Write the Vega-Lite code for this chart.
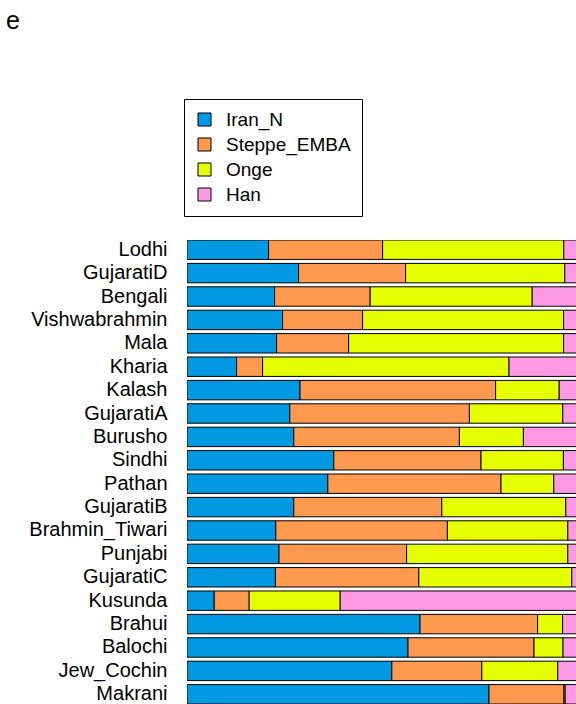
{
  "$schema": "https://vega.github.io/schema/vega-lite/v6.json",
  "autosize": "none",
  "padding": {"left": 187, "top": 240, "right": 0, "bottom": 0},
  "width": 389,
  "height": 464,
  "background": "white",
  "title": {"text": "e", "anchor": "start", "frame": "group", "dx": -181, "offset": 65, "fontSize": 25, "fontWeight": "normal", "font": "Liberation Sans", "color": "black"},
  "config": {"view": {"stroke": null}, "font": "Liberation Sans"},
  "data": {"values": [
    {"pop": "Lodhi", "source": "Iran_N", "value": 20.4}, {"pop": "Lodhi", "source": "Steppe_EMBA", "value": 28.5}, {"pop": "Lodhi", "source": "Onge", "value": 45.3}, {"pop": "Lodhi", "source": "Han", "value": 5.8},
    {"pop": "GujaratiD", "source": "Iran_N", "value": 27.9}, {"pop": "GujaratiD", "source": "Steppe_EMBA", "value": 26.75}, {"pop": "GujaratiD", "source": "Onge", "value": 39.8}, {"pop": "GujaratiD", "source": "Han", "value": 5.55},
    {"pop": "Bengali", "source": "Iran_N", "value": 21.9}, {"pop": "Bengali", "source": "Steppe_EMBA", "value": 23.9}, {"pop": "Bengali", "source": "Onge", "value": 40.5}, {"pop": "Bengali", "source": "Han", "value": 13.7},
    {"pop": "Vishwabrahmin", "source": "Iran_N", "value": 23.9}, {"pop": "Vishwabrahmin", "source": "Steppe_EMBA", "value": 20.0}, {"pop": "Vishwabrahmin", "source": "Onge", "value": 50.25}, {"pop": "Vishwabrahmin", "source": "Han", "value": 5.85},
    {"pop": "Mala", "source": "Iran_N", "value": 22.4}, {"pop": "Mala", "source": "Steppe_EMBA", "value": 18.0}, {"pop": "Mala", "source": "Onge", "value": 53.75}, {"pop": "Mala", "source": "Han", "value": 5.85},
    {"pop": "Kharia", "source": "Iran_N", "value": 12.4}, {"pop": "Kharia", "source": "Steppe_EMBA", "value": 6.5}, {"pop": "Kharia", "source": "Onge", "value": 61.6}, {"pop": "Kharia", "source": "Han", "value": 19.5},
    {"pop": "Kalash", "source": "Iran_N", "value": 28.25}, {"pop": "Kalash", "source": "Steppe_EMBA", "value": 48.9}, {"pop": "Kalash", "source": "Onge", "value": 15.9}, {"pop": "Kalash", "source": "Han", "value": 6.95},
    {"pop": "GujaratiA", "source": "Iran_N", "value": 25.7}, {"pop": "GujaratiA", "source": "Steppe_EMBA", "value": 44.9}, {"pop": "GujaratiA", "source": "Onge", "value": 23.35}, {"pop": "GujaratiA", "source": "Han", "value": 6.05},
    {"pop": "Burusho", "source": "Iran_N", "value": 26.7}, {"pop": "Burusho", "source": "Steppe_EMBA", "value": 41.4}, {"pop": "Burusho", "source": "Onge", "value": 16.0}, {"pop": "Burusho", "source": "Han", "value": 15.9},
    {"pop": "Sindhi", "source": "Iran_N", "value": 36.7}, {"pop": "Sindhi", "source": "Steppe_EMBA", "value": 36.8}, {"pop": "Sindhi", "source": "Onge", "value": 20.6}, {"pop": "Sindhi", "source": "Han", "value": 5.9},
    {"pop": "Pathan", "source": "Iran_N", "value": 35.2}, {"pop": "Pathan", "source": "Steppe_EMBA", "value": 43.3}, {"pop": "Pathan", "source": "Onge", "value": 13.2}, {"pop": "Pathan", "source": "Han", "value": 8.3},
    {"pop": "GujaratiB", "source": "Iran_N", "value": 26.7}, {"pop": "GujaratiB", "source": "Steppe_EMBA", "value": 37.0}, {"pop": "GujaratiB", "source": "Onge", "value": 31.0}, {"pop": "GujaratiB", "source": "Han", "value": 5.3},
    {"pop": "Brahmin_Tiwari", "source": "Iran_N", "value": 22.2}, {"pop": "Brahmin_Tiwari", "source": "Steppe_EMBA", "value": 42.9}, {"pop": "Brahmin_Tiwari", "source": "Onge", "value": 30.1}, {"pop": "Brahmin_Tiwari", "source": "Han", "value": 4.8},
    {"pop": "Punjabi", "source": "Iran_N", "value": 23.0}, {"pop": "Punjabi", "source": "Steppe_EMBA", "value": 31.9}, {"pop": "Punjabi", "source": "Onge", "value": 40.3}, {"pop": "Punjabi", "source": "Han", "value": 4.8},
    {"pop": "GujaratiC", "source": "Iran_N", "value": 22.1}, {"pop": "GujaratiC", "source": "Steppe_EMBA", "value": 35.85}, {"pop": "GujaratiC", "source": "Onge", "value": 38.25}, {"pop": "GujaratiC", "source": "Han", "value": 3.8},
    {"pop": "Kusunda", "source": "Iran_N", "value": 6.8}, {"pop": "Kusunda", "source": "Steppe_EMBA", "value": 8.75}, {"pop": "Kusunda", "source": "Onge", "value": 22.75}, {"pop": "Kusunda", "source": "Han", "value": 61.7},
    {"pop": "Brahui", "source": "Iran_N", "value": 58.25}, {"pop": "Brahui", "source": "Steppe_EMBA", "value": 29.4}, {"pop": "Brahui", "source": "Onge", "value": 6.25}, {"pop": "Brahui", "source": "Han", "value": 6.1},
    {"pop": "Balochi", "source": "Iran_N", "value": 55.25}, {"pop": "Balochi", "source": "Steppe_EMBA", "value": 31.5}, {"pop": "Balochi", "source": "Onge", "value": 7.25}, {"pop": "Balochi", "source": "Han", "value": 6.0},
    {"pop": "Jew_Cochin", "source": "Iran_N", "value": 51.2}, {"pop": "Jew_Cochin", "source": "Steppe_EMBA", "value": 22.5}, {"pop": "Jew_Cochin", "source": "Onge", "value": 19.0}, {"pop": "Jew_Cochin", "source": "Han", "value": 7.3},
    {"pop": "Makrani", "source": "Iran_N", "value": 75.5}, {"pop": "Makrani", "source": "Steppe_EMBA", "value": 18.75}, {"pop": "Makrani", "source": "Onge", "value": 0.3}, {"pop": "Makrani", "source": "Han", "value": 5.45}
  ]},
  "transform": [{"calculate": "indexof(['Iran_N','Steppe_EMBA','Onge','Han'], datum.source)", "as": "k"}],
  "mark": {"type": "bar", "stroke": "black", "strokeWidth": 1, "clip": true},
  "encoding": {
    "y": {"field": "pop", "type": "nominal", "sort": ["Lodhi","GujaratiD","Bengali","Vishwabrahmin","Mala","Kharia","Kalash","GujaratiA","Burusho","Sindhi","Pathan","GujaratiB","Brahmin_Tiwari","Punjabi","GujaratiC","Kusunda","Brahui","Balochi","Jew_Cochin","Makrani"],
      "scale": {"paddingInner": 0.17, "paddingOuter": 0},
      "axis": {"title": null, "ticks": false, "domain": false, "labelFontSize": 20, "labelColor": "black", "labelPadding": 20, "labelFont": "Liberation Sans"}},
    "x": {"field": "value", "type": "quantitative", "stack": "zero", "scale": {"domain": [0, 97.25], "nice": false, "zero": true}, "axis": null},
    "order": {"field": "k", "type": "quantitative", "sort": "ascending"},
    "color": {"field": "source", "type": "nominal", "sort": ["Iran_N","Steppe_EMBA","Onge","Han"],
      "scale": {"domain": ["Iran_N","Steppe_EMBA","Onge","Han"], "range": ["#0099E2","#FF994D","#E6FF00","#FF99E6"]},
      "legend": {"orient": "none", "legendX": -3, "legendY": -141, "title": null, "strokeColor": "black", "fillColor": "white", "padding": 11, "symbolType": "square", "symbolSize": 169, "symbolStrokeColor": "black", "symbolStrokeWidth": 1, "symbolOpacity": 1, "labelFontSize": 19, "labelFont": "Liberation Sans", "labelColor": "black", "labelOffset": 12, "rowPadding": 5}}
  }
}
